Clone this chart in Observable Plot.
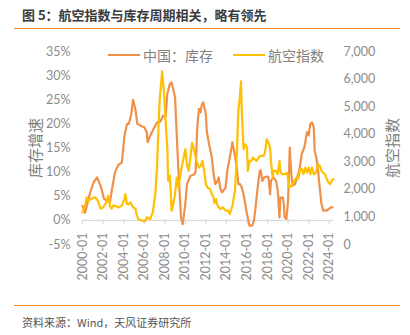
<!DOCTYPE html>
<html><head><meta charset="utf-8">
<script src="https://cdn.jsdelivr.net/npm/d3@7"></script>
<script src="https://cdn.jsdelivr.net/npm/@observablehq/plot@0.6"></script>
<style>
body{margin:0;background:#fff;}
#wrap{position:relative;width:410px;height:335px;overflow:hidden;font-family:"Noto Sans CJK SC",sans-serif;}
#title{position:absolute;left:22px;top:5px;font-size:13px;font-weight:600;color:#3c3c3c;white-space:nowrap;line-height:20px;}
.rule{position:absolute;left:14px;width:386px;height:0;border-top:1.5px solid #f28a24;}
#source{position:absolute;left:22px;top:312px;font-size:11px;color:#555;white-space:nowrap;line-height:20px;}
#legend{position:absolute;left:108px;top:45px;height:20px;display:flex;align-items:center;font-size:14px;color:#7f7f7f;}
.item{display:flex;align-items:center;margin-right:20px;}
.sw{width:32px;height:0;border-top:2.6px solid;margin-right:3px;}
#chart{position:absolute;left:0;top:0;}
</style></head><body>
<div id="wrap">
  <div id="title">图 5：航空指数与库存周期相关，略有领先</div>
  <div class="rule" style="top:28px"></div>
  <div id="chart"></div>
  <div id="legend"></div>
  <div class="rule" style="top:305px"></div>
  <div id="source">资料来源：Wind，天风证券研究所</div>
</div>
<script>
// ---- data ----
const seriesNames = ["中国：库存", "航空指数"];
const leftTitle = "库存增速";
const rightTitle = "航空指数";
const leftTicks = [-5, 0, 5, 10, 15, 20, 25, 30, 35];
const rightTicks = [0, 1000, 2000, 3000, 4000, 5000, 6000, 7000];
const xTickYears = [2000, 2002, 2004, 2006, 2008, 2010, 2012, 2014, 2016, 2018, 2020, 2022, 2024];

const invDates = ["2000-01","2000-04","2000-10","2001-02","2001-06","2001-10","2001-12","2002-02","2002-06","2002-09","2002-11",
"2003-03","2003-07","2003-11","2004-02","2004-05","2004-07","2004-10","2004-12","2005-03","2005-05","2005-09","2006-01","2006-04",
"2006-05","2006-08","2006-12","2007-04","2007-08","2007-11","2008-02","2008-04","2008-07","2008-09","2009-01","2009-03","2009-05",
"2009-08","2009-10","2010-01","2010-03","2010-07","2010-11","2011-01","2011-03","2011-05","2011-07","2011-08","2011-10","2012-01",
"2012-02","2012-04","2012-08","2012-10","2012-12","2013-02","2013-04","2013-06","2013-08","2013-12","2014-02","2014-05","2014-08",
"2014-11","2015-01","2015-03","2015-05","2015-07","2015-09","2015-11","2016-01","2016-04","2016-07","2016-09","2016-11","2017-01",
"2017-04","2017-05","2017-07","2017-09","2017-12","2018-02","2018-04","2018-05","2018-08","2018-11","2019-01","2019-03","2019-04",
"2019-07","2019-08","2019-09","2019-11","2020-01","2020-03","2020-04","2020-06","2020-09","2020-11","2021-02","2021-05","2021-08",
"2021-11","2022-01","2022-03","2022-05","2022-07","2022-08","2022-10","2022-12","2023-02","2023-04","2023-06","2023-08","2023-10",
"2024-03","2024-05"];
const invValues = [3.0,1.6,5.8,7.9,8.9,7.2,6.0,4.5,4.0,3.8,6.0,
10.0,11.5,12.0,17.6,20.0,20.0,22.0,25.0,22.8,20.0,19.6,19.3,18.3,
16.2,17.5,19.0,20.3,20.5,21.7,21.5,26.2,28.3,28.6,25.5,18.0,10.3,
0.6,-0.8,3.4,7.5,9.2,9.5,10.0,19.3,23.1,22.4,23.8,24.5,22.0,
18.5,16.5,13.0,9.6,7.5,8.0,8.9,6.5,5.8,6.8,10.3,13.0,16.2,
13.4,11.0,7.5,7.5,6.8,5.4,3.4,1.3,-1.1,-1.1,-0.1,2.7,6.1,
10.3,10.4,8.2,8.9,9.1,9.0,5.4,8.2,8.9,8.2,6.1,0.6,4.7,
4.7,3.4,0.6,0.3,4.1,15.1,11.5,7.2,7.5,8.6,10.3,13.8,15.1,
18.3,17.6,20.0,20.3,19.3,14.4,13.0,10.3,6.5,3.4,2.0,2.1,2.0,
2.7,2.7];

const airDates = ["2000-01","2000-04","2000-06","2000-08","2000-11","2001-03","2001-04","2001-07","2001-10","2002-01","2002-05",
"2002-07","2002-09","2002-11","2003-01","2003-03","2003-07","2003-11","2004-02","2004-03","2004-05","2004-07","2004-09","2004-12",
"2005-03","2005-04","2005-06","2005-10","2006-02","2006-04","2006-08","2006-11","2007-02","2007-04","2007-05","2007-07","2007-10",
"2007-12","2008-02","2008-04","2008-05","2008-07","2008-09","2008-10","2009-01","2009-03","2009-05","2009-08","2009-11","2010-01",
"2010-03","2010-05","2010-07","2010-09","2010-11","2011-02","2011-05","2011-07","2011-09","2011-11","2012-01","2012-03","2012-06",
"2012-08","2012-10","2012-11","2013-01","2013-02","2013-04","2013-06","2013-09","2013-12","2014-03","2014-05","2014-08","2014-11",
"2015-01","2015-03","2015-05","2015-06","2015-07","2015-09","2015-10","2015-11","2016-01","2016-02","2016-04","2016-06","2016-08",
"2016-12","2017-04","2017-08","2017-10","2017-12","2018-02","2018-04","2018-05","2018-07","2018-08","2018-11","2019-01","2019-03",
"2019-04","2019-06","2019-09","2019-12","2020-02","2020-05","2020-07","2020-11","2021-01","2021-03","2021-05","2021-07","2021-09",
"2021-11","2022-01","2022-03","2022-05","2022-07","2022-08","2022-10","2022-12","2023-02","2023-04","2023-06","2023-08","2023-12",
"2024-02","2024-04","2024-06"];
const airValues = [1160,1407,1707,1587,1647,1707,1707,1587,1300,1346,1527,
1767,1400,1300,1420,1407,1346,1407,1647,1827,1467,1467,1527,1346,
1286,1106,925,865,842,985,925,1166,1829,2790,3633,5196,6278,
5556,4474,3511,2309,2500,1227,1300,1829,2428,2069,2670,3150,3453,
2880,2670,3150,3691,3450,3031,2790,2850,3031,2670,2190,2069,2009,
1827,1707,1500,1647,1467,1346,1286,1346,1227,1227,1106,1407,1948,
3150,4835,5437,5917,4835,3453,3633,3633,3513,2670,3031,3031,3150,
3031,3213,3213,3331,3813,3693,3513,3031,2428,2670,2670,2550,3031,
2670,2550,2550,2600,2069,2129,2249,2428,2400,2731,2731,2550,2790,
2610,2790,2550,2790,2550,2550,2670,2910,2850,2670,2600,2550,2249,
2190,2310,2370];

// ---- styles ----
const COLORS = ["#f0914a", "#ffc000"];
const GRAY = "#8c8c8c";

const parse = d3.utcParse("%Y-%m");
const invData = invDates.map((d, i) => ({date: parse(d), value: invValues[i]}));
const airData = airDates.map((d, i) => ({date: parse(d), value: airValues[i]}));
const xTickDates = xTickYears.map(y => new Date(Date.UTC(y, 0, 1)));

const leftDomain = [leftTicks[0], leftTicks[leftTicks.length - 1]];
const rightDomain = [rightTicks[0], rightTicks[rightTicks.length - 1]];
const toLeft = d3.scaleLinear(rightDomain, leftDomain);
const fmtR = d3.format(",");

const plot = Plot.plot({
  width: 410, height: 335,
  marginTop: 51, marginBottom: 91, marginLeft: 82, marginRight: 77,
  x: {type: "utc", domain: [parse("2000-01"), parse("2024-06")], axis: null},
  y: {domain: leftDomain},
  style: {fontFamily: "Lato, sans-serif", fontSize: "12.5px", color: GRAY, background: "transparent"},
  marks: [
    Plot.axisY(leftTicks, {anchor: "left", tickSize: 0, tickPadding: 12, tickFormat: d => d + "%", label: null}),
    Plot.axisY(rightTicks.map(toLeft), {anchor: "right", tickSize: 0, tickPadding: 10, tickFormat: d => fmtR(Math.round(toLeft.invert(d))), label: null}),
    Plot.ruleY([0], {stroke: "#d9d9d9", strokeWidth: 1.2}),
    Plot.ruleX(xTickDates, {x: d => d, y1: 0, y2: -0.8, stroke: "#d9d9d9", strokeWidth: 1.2}),
    Plot.text(xTickDates, {x: d => d, y: 0, text: d => d3.utcFormat("%Y-%m")(d), rotate: -90, textAnchor: "end", dy: 12, fill: GRAY}),
    Plot.line(invData, {x: "date", y: "value", stroke: COLORS[0], strokeWidth: 2.2}),
    Plot.line(airData, {x: "date", y: d => toLeft(d.value), stroke: COLORS[1], strokeWidth: 2.2}),
    Plot.text([leftTitle], {frameAnchor: "left", textAnchor: "middle", dx: -46.5, rotate: -90, fontSize: 15, fontFamily: "Noto Sans CJK SC", fill: "#808080"}),
    Plot.text([rightTitle], {frameAnchor: "right", textAnchor: "middle", dx: 60, rotate: -90, fontSize: 15, fontFamily: "Noto Sans CJK SC", fill: "#808080"})
  ]
});
document.getElementById("chart").appendChild(plot);

const legend = document.getElementById("legend");
seriesNames.forEach((name, i) => {
  const item = document.createElement("div");
  item.className = "item";
  const sw = document.createElement("div");
  sw.className = "sw";
  sw.style.borderTopColor = COLORS[i];
  const label = document.createElement("span");
  label.textContent = name;
  item.appendChild(sw);
  item.appendChild(label);
  legend.appendChild(item);
});
</script>
</body></html>
